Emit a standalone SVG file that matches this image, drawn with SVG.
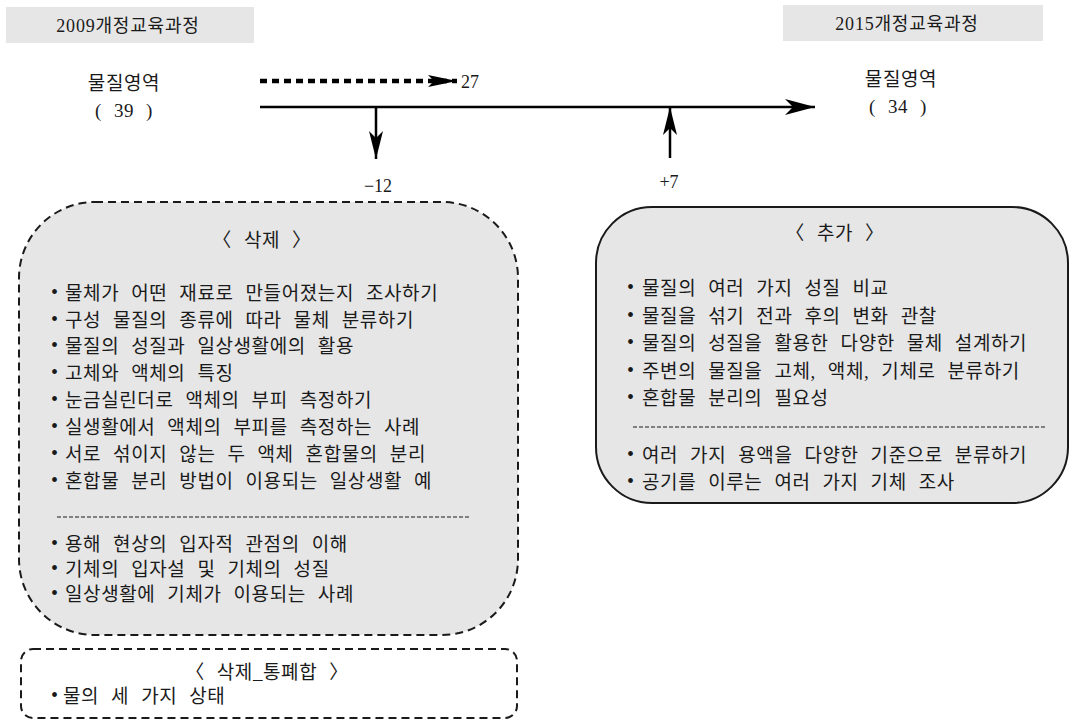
<svg xmlns="http://www.w3.org/2000/svg" width="1073" height="720" viewBox="0 0 1073 720">
  <style>
    text { font-family: "Liberation Serif", "Noto Sans CJK KR", serif; fill: #1a1a1a; font-size: 19px; letter-spacing: 0.6px; word-spacing: 6.6px; }
    .hdr { font-size: 18px; letter-spacing: 0.8px; word-spacing: 0; }
    .num { font-size: 18px; letter-spacing: 0; word-spacing: 0; }
    .mid { text-anchor: middle; }
    .dot { font-size: 20px; }
    .panel { fill: #e6e6e6; }
    .cut { fill: #e6e6e6; stroke: #1a1a1a; stroke-width: 2; stroke-dasharray: 8 5; }
    .merge { fill: #ffffff; stroke: #1a1a1a; stroke-width: 2; stroke-dasharray: 8 5; }
    .add { fill: #e6e6e6; stroke: #1a1a1a; stroke-width: 2; }
    .rule { stroke: #1a1a1a; stroke-width: 1; stroke-dasharray: 4 2; }
    .flow { fill: none; stroke: #000; stroke-width: 2.5; }
    .dots { fill: none; stroke: #000; stroke-width: 4.5; stroke-dasharray: 7 5; }
  </style>
  <defs>
    <marker id="headBig" markerUnits="userSpaceOnUse" markerWidth="32" markerHeight="18" refX="30" refY="9" orient="auto">
      <path d="M0,1 L30,9 L0,17 L8,9 Z" fill="#000"/>
    </marker>
    <marker id="headMid" markerUnits="userSpaceOnUse" markerWidth="30" markerHeight="16" refX="28" refY="8" orient="auto">
      <path d="M0,1 L28,8 L0,15 L7,8 Z" fill="#000"/>
    </marker>
    <marker id="headDot" markerUnits="userSpaceOnUse" markerWidth="31" markerHeight="14" refX="29" refY="7" orient="auto">
      <path d="M0,1 L29,7 L0,13 L6,7 Z" fill="#000"/>
    </marker>
  </defs>

  <!-- curriculum headers -->
  <g id="header-2009">
    <rect class="panel" x="6" y="7" width="248" height="36"/>
    <text class="hdr mid" x="128" y="32">2009개정교육과정</text>
  </g>
  <g id="header-2015">
    <rect class="panel" x="783" y="5" width="260" height="36"/>
    <text class="hdr mid" x="907" y="30">2015개정교육과정</text>
  </g>

  <!-- domain counts -->
  <g id="domain-2009">
    <text class="mid" x="124" y="90">물질영역</text>
    <text class="mid" x="124" y="117">( 39 )</text>
  </g>
  <g id="domain-2015">
    <text class="mid" x="901" y="86">물질영역</text>
    <text class="mid" x="898" y="113">( 34 )</text>
  </g>

  <!-- connectors -->
  <g id="connectors">
    <path class="dots" d="M260,81 H457" marker-end="url(#headDot)"/>
    <path class="flow" d="M260,107 H815" marker-end="url(#headBig)"/>
    <path class="flow" d="M376,107 V159" marker-end="url(#headMid)"/>
    <path class="flow" d="M670,158 V107" marker-end="url(#headMid)"/>
    <text class="num" x="461" y="88">27</text>
    <text class="num mid" x="378" y="192">−12</text>
    <text class="num mid" x="669" y="188">+7</text>
  </g>

  <!-- removed content -->
  <g id="removed">
    <rect class="cut" x="19" y="202" width="499" height="433" rx="76" ry="76"/>
    <text class="mid" x="262" y="247">〈 삭제 〉</text>
    <text><tspan class="dot" x="51" y="299">•</tspan><tspan x="65" y="300">물체가 어떤 재료로 만들어졌는지 조사하기</tspan></text>
    <text><tspan class="dot" x="51" y="326">•</tspan><tspan x="65" y="327">구성 물질의 종류에 따라 물체 분류하기</tspan></text>
    <text><tspan class="dot" x="51" y="352">•</tspan><tspan x="65" y="353">물질의 성질과 일상생활에의 활용</tspan></text>
    <text><tspan class="dot" x="51" y="379">•</tspan><tspan x="65" y="380">고체와 액체의 특징</tspan></text>
    <text><tspan class="dot" x="51" y="406">•</tspan><tspan x="65" y="407">눈금실린더로 액체의 부피 측정하기</tspan></text>
    <text><tspan class="dot" x="51" y="433">•</tspan><tspan x="65" y="434">실생활에서 액체의 부피를 측정하는 사례</tspan></text>
    <text><tspan class="dot" x="51" y="460">•</tspan><tspan x="65" y="461">서로 섞이지 않는 두 액체 혼합물의 분리</tspan></text>
    <text><tspan class="dot" x="51" y="487">•</tspan><tspan x="65" y="488">혼합물 분리 방법이 이용되는 일상생활 예</tspan></text>
    <line class="rule" x1="57" y1="517" x2="470" y2="517"/>
    <text><tspan class="dot" x="51" y="550">•</tspan><tspan x="65" y="551">용해 현상의 입자적 관점의 이해</tspan></text>
    <text><tspan class="dot" x="51" y="575">•</tspan><tspan x="65" y="576">기체의 입자설 및 기체의 성질</tspan></text>
    <text><tspan class="dot" x="51" y="600">•</tspan><tspan x="65" y="601">일상생활에 기체가 이용되는 사례</tspan></text>
  </g>

  <!-- removed by merging -->
  <g id="merged">
    <rect class="merge" x="21" y="649" width="496" height="69" rx="12" ry="12"/>
    <text class="mid" x="267" y="679">〈 삭제_통폐합 〉</text>
    <text><tspan class="dot" x="51" y="702">•</tspan><tspan x="63" y="703">물의 세 가지 상태</tspan></text>
  </g>

  <!-- added content -->
  <g id="added">
    <rect class="add" x="596" y="207" width="472" height="296" rx="56" ry="56"/>
    <text class="mid" x="835" y="240">〈 추가 〉</text>
    <text><tspan class="dot" x="627" y="294">•</tspan><tspan x="642" y="295">물질의 여러 가지 성질 비교</tspan></text>
    <text><tspan class="dot" x="627" y="322">•</tspan><tspan x="642" y="323">물질을 섞기 전과 후의 변화 관찰</tspan></text>
    <text><tspan class="dot" x="627" y="349">•</tspan><tspan x="642" y="350">물질의 성질을 활용한 다양한 물체 설계하기</tspan></text>
    <text><tspan class="dot" x="627" y="377">•</tspan><tspan x="642" y="378">주변의 물질을 고체, 액체, 기체로 분류하기</tspan></text>
    <text><tspan class="dot" x="627" y="404">•</tspan><tspan x="642" y="405">혼합물 분리의 필요성</tspan></text>
    <line class="rule" x1="633" y1="427" x2="1047" y2="427"/>
    <text><tspan class="dot" x="627" y="461">•</tspan><tspan x="642" y="462">여러 가지 용액을 다양한 기준으로 분류하기</tspan></text>
    <text><tspan class="dot" x="627" y="488">•</tspan><tspan x="642" y="489">공기를 이루는 여러 가지 기체 조사</tspan></text>
  </g>
</svg>
